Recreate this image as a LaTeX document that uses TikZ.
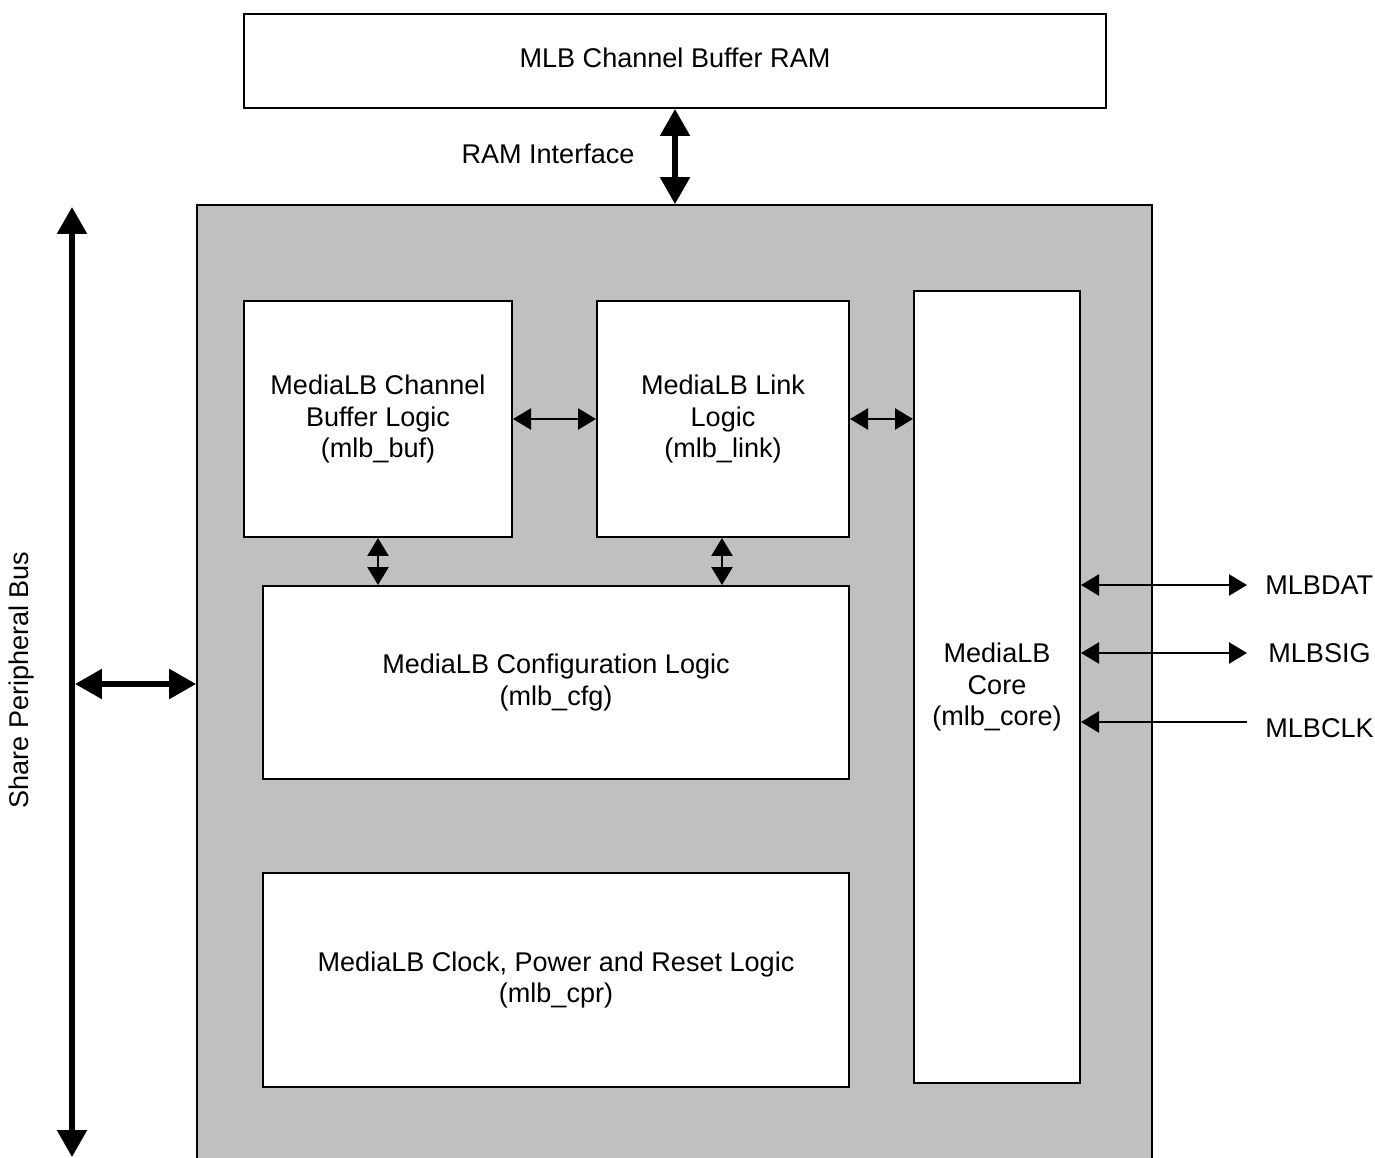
\documentclass[tikz,border=0pt]{standalone}
\usepackage{fontspec}
\setmainfont{Liberation Sans}
\usetikzlibrary{arrows.meta,fit}
\definecolor{chipgrey}{HTML}{C0C0C0}
\begin{document}
\begin{tikzpicture}[x=0.02cm,y=-0.02cm,
  txt/.style={font=\fontsize{15.4}{18.2}\selectfont, align=center},
  box/.style={draw, line width=0.04cm, fill=white, inner sep=0pt},
  boxtxt/.style={txt, inner sep=0pt},
  chip/.style={draw, line width=0.035cm, fill=chipgrey, inner sep=0pt},
  bigarrow/.style={line width=0.11cm, {Triangle[length=0.54cm,width=0.58cm]}-{Triangle[length=0.54cm,width=0.58cm]}},
  smallarrow/.style={line width=0.05cm, {Triangle[length=0.36cm,width=0.42cm]}-{Triangle[length=0.36cm,width=0.42cm]}},
  inarrow/.style={line width=0.05cm, {Triangle[length=0.36cm,width=0.42cm]}-},
  sig/.style={txt, anchor=west, inner sep=0pt}
]
\useasboundingbox (0,0) rectangle (1375,1158);

% grey chip area (extends below the page)
\node[chip, fit={(197,205)(1152,1180)}] (chip) {};

% RAM
\node[box, fit={(244,14)(1106,108)}] (ram) {};
\node[boxtxt, yshift=0.06cm] (ramt) at (ram.center) {MLB Channel Buffer RAM};
\draw[bigarrow] (ram.south -| 675,0) -- (chip.north -| 675,0);
\node[txt, inner sep=0pt] (ramif) at (548,154) {RAM Interface};

% inner blocks
\node[box, fit={(244,301)(512,537)}] (buf) {};
\node[boxtxt] (buft) at (buf.center) {MediaLB Channel\\Buffer Logic\\(mlb\_buf)};
\node[box, fit={(597,301)(849,537)}] (link) {};
\node[boxtxt] (linkt) at (link.center) {MediaLB Link\\Logic\\(mlb\_link)};
\node[box, fit={(914,291)(1080,1083)}] (core) {};
\node[boxtxt] (coret) at (core.center) {MediaLB\\Core\\(mlb\_core)};
\node[box, fit={(263,586)(849,779)}] (cfg) {};
\node[boxtxt] (cfgt) at (cfg.center) {MediaLB Configuration Logic\\(mlb\_cfg)};
\node[box, fit={(263,873)(849,1087)}] (cpr) {};
\node[boxtxt] (cprt) at (cpr.center) {MediaLB Clock, Power and Reset Logic\\(mlb\_cpr)};

% internal connectors
\draw[smallarrow] (buf.east |- 0,419) -- (link.west |- 0,419);
\draw[smallarrow] (link.east |- 0,419) -- (core.west |- 0,419);
\draw[smallarrow] (buf.south -| 378,0) -- (cfg.north -| 378,0);
\draw[smallarrow] (link.south -| 722,0) -- (cfg.north -| 722,0);

% share peripheral bus
\coordinate (bustop) at (72,207);
\coordinate (busbot) at (72,1157);
\coordinate (busmid) at (75,684);
\draw[bigarrow] (busbot) -- (bustop);
\draw[bigarrow] (busmid) -- (chip.west |- busmid);
\node[txt, rotate=90, inner sep=0pt] (buslbl) at (22,680) {Share Peripheral Bus};

% MLB signals
\coordinate (datend) at (1247,585);
\coordinate (sigend) at (1247,653);
\coordinate (clkend) at (1247,722);
\draw[smallarrow] (core.east |- datend) -- (datend);
\draw[smallarrow] (core.east |- sigend) -- (sigend);
\draw[inarrow] (core.east |- clkend) -- (clkend);
\node[sig] (dat) at (1265,585) {MLBDAT};
\node[sig] (sigl) at (1268,653) {MLBSIG};
\node[sig] (clk) at (1265,728) {MLBCLK};
\end{tikzpicture}
\end{document}
